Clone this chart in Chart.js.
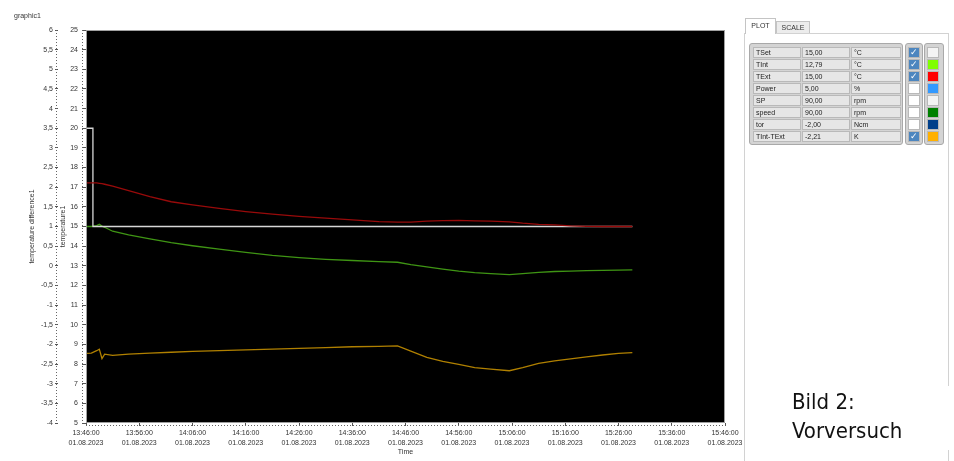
<!DOCTYPE html>
<html>
<head>
<meta charset="utf-8">
<script src="https://cdn.jsdelivr.net/npm/chart.js@4.4.0/dist/chart.umd.min.js"></script>
<style>
  body { margin: 0; background: #fff; font-family: "Liberation Sans", Arial, sans-serif; }
  #wrap { position: relative; width: 954px; height: 461px; overflow: hidden; }
  #plot { position: absolute; left: 0; top: 0; }
  #graphName { position: absolute; left: 14px; top: 12px; font-size: 7px; color: #333; }
  .tab { position: absolute; font-size: 7px; color: #333; text-align: center; border: 1px solid #c4c4c4; border-bottom: none; box-sizing: border-box; }
  #panel { position: absolute; left: 744px; top: 33px; width: 205px; height: 440px; border: 1px solid #d2d2d2; box-sizing: border-box; }
  .group { position: absolute; top: 43px; height: 102px; background: #d4d4d4; border: 1px solid #a9a9a9; border-radius: 3px; box-sizing: border-box; }
  .cell { position: absolute; height: 11px; background: #e6e6e6; border: 1px solid #b9b9b9; box-sizing: border-box; font-size: 7px; line-height: 9px; padding-left: 2px; color: #222; }
  .box { position: absolute; width: 12px; height: 11px; border: 1px solid #b9b9b9; box-sizing: border-box; background: #fff; }
  .box.on { background: #4d86bf; color: #fff; font-size: 9px; line-height: 9px; text-align: center; }
  #note { position: absolute; left: 770px; top: 386px; width: 184px; height: 64px; background: #fff; }
  #note div { position: absolute; left: 22px; font-family: "DejaVu Sans Condensed", "Liberation Sans Narrow", sans-serif; font-size: 22px; color: #111; }
</style>
</head>
<body>
<div id="wrap">
  <canvas id="plot" width="745" height="461"></canvas>
  <div id="graphName">graphic1</div>
  <div id="panel"></div>
  <div class="tab" style="left:745px;top:18px;width:31px;height:16px;background:#fff;line-height:14px;">PLOT</div>
  <div class="tab" style="left:776px;top:21px;width:34px;height:12px;background:#ececec;line-height:11px;">SCALE</div>
  <div class="group" style="left:749px;width:154px;"></div>
  <div class="group" style="left:905px;width:18px;"></div>
  <div class="group" style="left:924px;width:20px;"></div>
  <div id="rows"></div>
  <div id="note"><div style="top:3px;">Bild 2:</div><div style="top:32px;">Vorversuch</div></div>
</div>
<script>
// x axis: minutes after 13:46:00
const xTickLabels = ["13:46:00", "13:56:00", "14:06:00", "14:16:00", "14:26:00", "14:36:00", "14:46:00",
  "14:56:00", "15:06:00", "15:16:00", "15:26:00", "15:36:00", "15:46:00"];
const dateLabel = "01.08.2023";

const minutes = [0, 1, 2, 2.5, 3, 3.5, 5, 8, 12, 16, 20, 25, 30, 35, 40, 45, 50, 55, 58.5,
  61, 64, 67, 70, 73, 76, 79.5, 82, 85, 88, 91, 94, 97, 100, 102.6];

const tSetMinutes = [0, 1.3, 1.3, 102.6];
const tSet = [20, 20, 15, 15];

const tInt = [15.0, 15.0, 15.05, 15.11, 15.02, 14.96, 14.76, 14.57, 14.37, 14.18, 14.02, 13.85, 13.68,
  13.53, 13.42, 13.33, 13.27, 13.21, 13.18, 13.06, 12.94, 12.83, 12.73, 12.65, 12.6, 12.55, 12.6,
  12.67, 12.71, 12.73, 12.75, 12.77, 12.78, 12.79];

const tExt = [17.22, 17.22, 17.22, 17.2, 17.18, 17.15, 17.05, 16.83, 16.52, 16.26, 16.1, 15.92, 15.76,
  15.63, 15.52, 15.43, 15.34, 15.25, 15.22, 15.22, 15.27, 15.3, 15.31, 15.29, 15.27, 15.24, 15.17,
  15.11, 15.08, 15.03, 15.01, 15.0, 15.0, 15.0];

const tDiff = [-2.23, -2.22, -2.16, -2.12, -2.36, -2.25, -2.28, -2.25, -2.22, -2.2, -2.18, -2.16, -2.14,
  -2.12, -2.1, -2.08, -2.06, -2.05, -2.04, -2.17, -2.33, -2.43, -2.51, -2.59, -2.63, -2.67, -2.59,
  -2.48, -2.42, -2.37, -2.32, -2.27, -2.23, -2.21];

// legend table on the right
const legendNames = ["TSet", "TInt", "TExt", "Power", "SP", "speed", "tor", "TInt-TExt"];
const legendValues = ["15,00", "12,79", "15,00", "5,00", "90,00", "90,00", "-2,00", "-2,21"];
const legendUnits = ["°C", "°C", "°C", "%", "rpm", "rpm", "Ncm", "K"];
const legendChecked = [true, true, true, false, false, false, false, true];
const legendColors = ["#f4f4f4", "#80ff00", "#ff0000", "#3399ff", "#f4f4f4", "#008000", "#003f8a", "#ffb000"];

let rowsHtml = "";
legendNames.forEach((name, i) => {
  const top = 47 + i * 12;
  rowsHtml += `<div class="cell" style="left:753px;top:${top}px;width:48px;">${name}</div>`;
  rowsHtml += `<div class="cell" style="left:802px;top:${top}px;width:48px;">${legendValues[i]}</div>`;
  rowsHtml += `<div class="cell" style="left:851px;top:${top}px;width:50px;">${legendUnits[i]}</div>`;
  rowsHtml += `<div class="box${legendChecked[i] ? " on" : ""}" style="left:908px;top:${top}px;">${legendChecked[i] ? "&#10003;" : ""}</div>`;
  rowsHtml += `<div class="box" style="left:927px;top:${top}px;background:${legendColors[i]};"></div>`;
});
document.getElementById("rows").innerHTML = rowsHtml;

const pts = (xs, ys) => xs.map((x, i) => ({ x: x, y: ys[i] }));
const decimalComma = v => String(v).replace(".", ",");
const tickFont = { family: "Liberation Sans", size: 7, lineHeight: 1.4 };

const plotFrame = {
  id: "plotFrame",
  beforeDraw(chart) {
    const a = chart.chartArea;
    const c = chart.ctx;
    c.save();
    c.fillStyle = "#000";
    c.fillRect(a.left, a.top, a.right - a.left, a.bottom - a.top);
    c.restore();
  },
  afterDraw(chart) {
    const a = chart.chartArea;
    const c = chart.ctx;
    const s = chart.scales;
    c.save();
    c.strokeStyle = "#a0a0a0";
    c.lineWidth = 1;
    c.strokeRect(a.left + 0.5, a.top + 0.5, a.right - a.left - 1, a.bottom - a.top - 1);
    // minor tick dots
    c.strokeStyle = "#666";
    c.setLineDash([1, 2]);
    c.beginPath();
    c.moveTo(s.yDiff.right - 1.5, s.yDiff.top);
    c.lineTo(s.yDiff.right - 1.5, s.yDiff.bottom);
    c.moveTo(s.y.right - 3.5, s.y.top);
    c.lineTo(s.y.right - 3.5, s.y.bottom);
    c.moveTo(s.x.left, s.x.top + 2.5);
    c.lineTo(s.x.right, s.x.top + 2.5);
    c.stroke();
    c.restore();
  }
};

new Chart(document.getElementById("plot"), {
  type: "line",
  data: {
    datasets: [
      { label: "TExt", data: pts(minutes, tExt), borderColor: "#980a0a", yAxisID: "y" },
      { label: "TSet", data: pts(tSetMinutes, tSet), borderColor: "#d6d6d6", yAxisID: "y" },
      { label: "TInt", data: pts(minutes, tInt), borderColor: "#3f9514", yAxisID: "y" },
      { label: "TInt-TExt", data: pts(minutes, tDiff), borderColor: "#b08000", yAxisID: "yDiff" }
    ]
  },
  options: {
    responsive: false,
    animation: false,
    elements: { point: { radius: 0 }, line: { borderWidth: 1.3, tension: 0 } },
    layout: { padding: { left: 24, right: 20, top: 30, bottom: 4 } },
    plugins: { legend: { display: false }, tooltip: { enabled: false } },
    scales: {
      x: {
        type: "linear",
        position: "bottom",
        min: 0,
        max: 120,
        afterFit: s => { s.height = 34; },
        border: { display: false },
        grid: { drawOnChartArea: false, tickLength: 3, color: "#555" },
        ticks: {
          stepSize: 10, autoSkip: false, maxRotation: 0, padding: 2, color: "#333", font: tickFont,
          callback: (v, i) => [xTickLabels[i], dateLabel]
        },
        title: { display: true, text: "Time", color: "#333", font: tickFont, padding: { top: 0, bottom: 0 } }
      },
      y: {
        position: "left",
        weight: 0,
        min: 5,
        max: 25,
        afterFit: s => { s.width = 28; },
        border: { display: false },
        grid: { drawOnChartArea: false, tickLength: 4, color: "#555" },
        ticks: { stepSize: 1, padding: 4, color: "#333", font: tickFont, callback: decimalComma },
        title: { display: true, text: "temperature1", color: "#333", font: { family: "Liberation Sans", size: 7 }, padding: { top: 1, bottom: 0 } }
      },
      yDiff: {
        position: "left",
        weight: 1,
        min: -4,
        max: 6,
        afterFit: s => { s.width = 34; },
        border: { display: false },
        grid: { drawOnChartArea: false, tickLength: 3, color: "#555" },
        ticks: { stepSize: 0.5, padding: 2, color: "#333", font: tickFont, callback: decimalComma },
        title: { display: true, text: "temperature difference1", color: "#333", font: { family: "Liberation Sans", size: 7 }, padding: { top: 4, bottom: 0 } }
      }
    }
  },
  plugins: [plotFrame]
});
</script>
</body>
</html>
